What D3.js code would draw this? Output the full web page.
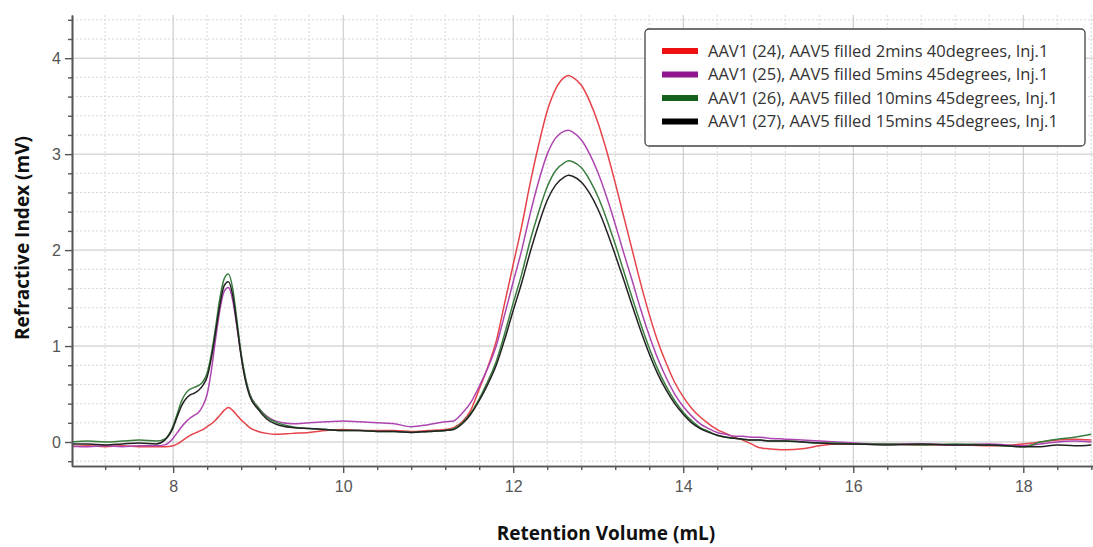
<!DOCTYPE html>
<html lang="en">
<head>
<meta charset="UTF-8" />
<title>Refractive Index vs Retention Volume</title>
<script src="https://d3js.org/d3.v7.min.js"></script>
<style>
  body { margin: 0; background: #fff; }
  svg { display: block; font-family: "Open Sans", "Noto Sans", sans-serif; }
</style>
</head>
<body>
<svg width="1093" height="547" id="chart"></svg>
<script>
  // retention volume (mL), shared by all four runs
  const volume = [
    6.8, 7.0, 7.2, 7.4, 7.6, 7.8, 7.9,
    8.0, 8.05, 8.1, 8.15, 8.2, 8.25, 8.3, 8.35, 8.4, 8.45, 8.5, 8.55, 8.6, 8.65, 8.7, 8.75, 8.8, 8.85, 8.9,
    9.0, 9.1, 9.2, 9.4, 9.6, 9.8, 10.0, 10.2, 10.4, 10.6, 10.8, 11.0,
    11.2, 11.3, 11.4, 11.5, 11.6, 11.7, 11.8, 11.9, 12.0, 12.1, 12.2, 12.3, 12.4, 12.5, 12.6, 12.65,
    12.7, 12.8, 12.9, 13.0, 13.1, 13.2, 13.3, 13.4, 13.5, 13.6, 13.7, 13.8, 13.9, 14.0,
    14.1, 14.2, 14.3, 14.4, 14.5, 14.6, 14.7, 14.8, 14.9, 15.0,
    15.2, 15.4, 15.6, 15.8, 16.0, 16.4, 16.8, 17.2, 17.6, 18.0, 18.2, 18.4, 18.6, 18.8
  ];

  const run24 = [
    -0.05, -0.04, -0.05, -0.04, -0.05, -0.05, -0.05,
    -0.04, -0.02, 0.01, 0.04, 0.07, 0.09, 0.11, 0.13, 0.16, 0.19, 0.23, 0.28, 0.33, 0.36, 0.33, 0.28, 0.23, 0.19, 0.15,
    0.11, 0.09, 0.08, 0.09, 0.10, 0.12, 0.13, 0.12, 0.12, 0.12, 0.11, 0.12,
    0.13, 0.15, 0.21, 0.33, 0.55, 0.78, 1.05, 1.45, 1.85, 2.25, 2.70, 3.10, 3.45, 3.68, 3.80, 3.82,
    3.80, 3.72, 3.55, 3.32, 3.03, 2.70, 2.35, 2.00, 1.65, 1.33, 1.05, 0.82, 0.62, 0.47,
    0.35, 0.26, 0.19, 0.13, 0.09, 0.05, 0.02, -0.02, -0.06, -0.07,
    -0.08, -0.07, -0.04, -0.02, -0.02, -0.02, -0.03, -0.03, -0.04, -0.02, 0.00, 0.02, 0.03, 0.02
  ];

  const run25 = [
    -0.04, -0.05, -0.04, -0.05, -0.04, -0.04, -0.03,
    0.04, 0.10, 0.16, 0.21, 0.25, 0.28, 0.31, 0.38, 0.50, 0.75, 1.08, 1.38, 1.57, 1.61, 1.48, 1.20, 0.90, 0.66, 0.50,
    0.36, 0.27, 0.22, 0.19, 0.20, 0.21, 0.22, 0.21, 0.20, 0.19, 0.16, 0.18,
    0.21, 0.22, 0.30, 0.41, 0.58, 0.77, 1.00, 1.33, 1.67, 2.00, 2.38, 2.72, 3.00, 3.17, 3.24, 3.25,
    3.23, 3.15, 3.00, 2.80, 2.55, 2.27, 1.97, 1.68, 1.38, 1.11, 0.87, 0.67, 0.50, 0.37,
    0.27, 0.19, 0.14, 0.10, 0.08, 0.06, 0.06, 0.05, 0.05, 0.04,
    0.03, 0.02, 0.01, 0.00, -0.01, -0.02, -0.02, -0.03, -0.02, -0.04, -0.02, 0.00, 0.01, 0.00
  ];

  const run26 = [
    0.00, 0.01, 0.00, 0.01, 0.02, 0.01, 0.03,
    0.17, 0.30, 0.43, 0.51, 0.55, 0.57, 0.59, 0.63, 0.72, 0.92, 1.20, 1.50, 1.70, 1.75, 1.60, 1.27, 0.92, 0.67, 0.50,
    0.36, 0.26, 0.21, 0.16, 0.14, 0.13, 0.12, 0.12, 0.11, 0.11, 0.10, 0.11,
    0.12, 0.14, 0.20, 0.30, 0.45, 0.63, 0.84, 1.13, 1.45, 1.75, 2.10, 2.40, 2.66, 2.83, 2.91, 2.93,
    2.92, 2.86, 2.73, 2.55, 2.32, 2.06, 1.78, 1.50, 1.23, 0.98, 0.76, 0.58, 0.43, 0.31,
    0.22, 0.15, 0.11, 0.07, 0.05, 0.04, 0.03, 0.02, 0.02, 0.01,
    0.01, 0.00, -0.01, -0.01, -0.02, -0.02, -0.03, -0.02, -0.03, -0.05, 0.00, 0.03, 0.05, 0.08
  ];

  const run27 = [
    -0.02, -0.02, -0.03, -0.02, -0.01, -0.02, 0.02,
    0.15, 0.27, 0.38, 0.45, 0.49, 0.51, 0.54, 0.59, 0.68, 0.88, 1.15, 1.43, 1.63, 1.67, 1.53, 1.22, 0.89, 0.64, 0.48,
    0.34, 0.24, 0.19, 0.15, 0.14, 0.13, 0.12, 0.12, 0.11, 0.11, 0.10, 0.11,
    0.12, 0.13, 0.19, 0.29, 0.43, 0.60, 0.80, 1.07, 1.37, 1.66, 1.98, 2.27, 2.52, 2.68, 2.76, 2.78,
    2.77, 2.71, 2.59, 2.42, 2.20, 1.95, 1.69, 1.42, 1.16, 0.92, 0.71, 0.54, 0.40, 0.29,
    0.20, 0.14, 0.10, 0.07, 0.05, 0.04, 0.03, 0.02, 0.02, 0.01,
    0.01, 0.00, -0.01, -0.02, -0.02, -0.03, -0.02, -0.03, -0.03, -0.05, -0.05, -0.03, -0.04, -0.03
  ];

  const seriesNames = [
    "AAV1 (24), AAV5 filled 2mins 40degrees, Inj.1",
    "AAV1 (25), AAV5 filled 5mins 45degrees, Inj.1",
    "AAV1 (26), AAV5 filled 10mins 45degrees, Inj.1",
    "AAV1 (27), AAV5 filled 15mins 45degrees, Inj.1"
  ];
  const seriesValues = [run24, run25, run26, run27];
  const lineColors = ["#e6434a", "#ad45b0", "#3a7d3f", "#222222"];
  const swatchColors = ["#ee1111", "#8f168f", "#15601c", "#000000"];

  const xTicks = [8, 10, 12, 14, 16, 18];
  const yTicks = [0, 1, 2, 3, 4];

  const svg = d3.select("#chart");
  const plotLeft = 72, plotRight = 1093, plotTop = 15, plotBottom = 466;

  const x = d3.scaleLinear().domain([6.81, 18.82]).range([plotLeft, plotRight]);
  const y = d3.scaleLinear().domain([-0.25, 4.45]).range([plotBottom, plotTop]);

  const isMajor = (v, step) => Math.abs(v / step - Math.round(v / step)) < 1e-6;
  const xMinor = d3.range(6.8, 18.85, 0.4).map(v => +v.toFixed(2)).filter(v => !isMajor(v, 2) && v > 6.81);
  const yMinor = d3.range(-0.2, 4.45, 0.2).map(v => +v.toFixed(2)).filter(v => !isMajor(v, 1));

  // grid
  const grid = svg.append("g");
  grid.selectAll(".vmin").data(xMinor).enter().append("line")
    .attr("x1", d => x(d)).attr("x2", d => x(d)).attr("y1", plotTop).attr("y2", plotBottom)
    .attr("stroke", "#d8d8d8").attr("stroke-dasharray", "2,2");
  grid.selectAll(".hmin").data(yMinor).enter().append("line")
    .attr("x1", plotLeft).attr("x2", plotRight).attr("y1", d => y(d)).attr("y2", d => y(d))
    .attr("stroke", "#d8d8d8").attr("stroke-dasharray", "2,2");
  grid.selectAll(".vmaj").data(xTicks).enter().append("line")
    .attr("x1", d => x(d)).attr("x2", d => x(d)).attr("y1", plotTop).attr("y2", plotBottom)
    .attr("stroke", "#c4c4c4");
  grid.selectAll(".hmaj").data(yTicks).enter().append("line")
    .attr("x1", plotLeft).attr("x2", plotRight).attr("y1", d => y(d)).attr("y2", d => y(d))
    .attr("stroke", "#c4c4c4");

  // curves
  svg.append("clipPath").attr("id", "plot")
    .append("rect").attr("x", plotLeft).attr("y", plotTop)
    .attr("width", plotRight - plotLeft).attr("height", plotBottom - plotTop);

  const line = d3.line()
    .x(d => x(d[0]))
    .y(d => y(d[1]))
    .curve(d3.curveMonotoneX);

  svg.append("g").attr("clip-path", "url(#plot)")
    .selectAll("path")
    .data(seriesValues)
    .enter()
    .append("path")
    .attr("d", vals => line(volume.map((v, i) => [v, vals[i]])))
    .attr("fill", "none")
    .attr("stroke", (d, i) => lineColors[i])
    .attr("stroke-width", 1.5)
    .attr("stroke-linejoin", "round");

  // axes
  const styleAxis = g => {
    g.select(".domain").attr("stroke", "#555").attr("stroke-width", 1.6);
    g.selectAll(".tick line").attr("stroke", "#555").attr("stroke-width", 1.4);
    g.selectAll(".tick text").attr("fill", "#555").style("font-size", "16px");
  };

  svg.append("g").attr("transform", `translate(0,${plotBottom})`)
    .call(d3.axisBottom(x).tickValues(xMinor).tickSize(4).tickSizeOuter(0).tickFormat(""))
    .call(styleAxis);
  svg.append("g").attr("transform", `translate(0,${plotBottom})`)
    .call(d3.axisBottom(x).tickValues(xTicks).tickSize(7).tickSizeOuter(0).tickPadding(8).tickFormat(d3.format("d")))
    .call(styleAxis);

  svg.append("g").attr("transform", `translate(${plotLeft},0)`)
    .call(d3.axisLeft(y).tickValues(yMinor).tickSize(4).tickSizeOuter(0).tickFormat(""))
    .call(styleAxis);
  svg.append("g").attr("transform", `translate(${plotLeft},0)`)
    .call(d3.axisLeft(y).tickValues(yTicks).tickSize(7).tickSizeOuter(0).tickPadding(4).tickFormat(d3.format("d")))
    .call(styleAxis);

  svg.append("text")
    .attr("x", 606).attr("y", 540)
    .attr("text-anchor", "middle")
    .style("font-size", "19px").style("font-weight", "bold").attr("fill", "#111")
    .text("Retention Volume (mL)");

  svg.append("text")
    .attr("transform", "translate(29,238) rotate(-90)")
    .attr("text-anchor", "middle")
    .style("font-size", "19px").style("font-weight", "bold").attr("fill", "#111")
    .text("Refractive Index (mV)");

  // legend
  const legend = svg.append("g");
  legend.append("rect")
    .attr("x", 645).attr("y", 29).attr("width", 440).attr("height", 117).attr("rx", 4)
    .attr("fill", "#fff").attr("stroke", "#444").attr("stroke-width", 1.3);

  const rows = legend.selectAll(".row").data(seriesNames).enter().append("g")
    .attr("transform", (d, i) => `translate(0,${51 + i * 23.5})`);
  rows.append("line")
    .attr("x1", 662).attr("x2", 698).attr("y1", 0).attr("y2", 0)
    .attr("stroke", (d, i) => swatchColors[i]).attr("stroke-width", 6);
  rows.append("text")
    .attr("x", 708).attr("y", 0).attr("dy", "0.35em")
    .style("font-size", "16.5px").attr("fill", "#333")
    .text(d => d);
</script>
</body>
</html>
